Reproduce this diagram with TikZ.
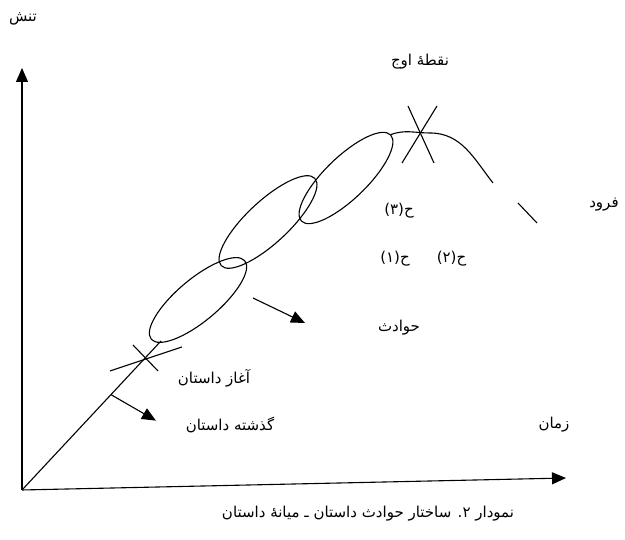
\documentclass[tikz,border=0pt]{standalone}
\usepackage{fontspec}
\newfontfamily\arabicfont[Script=Arabic]{DejaVu Sans}
\TeXXeTstate=1
\usetikzlibrary{arrows.meta,positioning,calc,shapes.geometric}

\begin{document}
\begin{tikzpicture}[x=1pt,y=1pt,line width=1.1pt,>={Triangle[length=14pt,width=12pt]},
  lbl/.style={font=\arabicfont\fontsize{15}{18}\selectfont,inner sep=1pt,execute at begin node=\beginR,execute at end node=\endR},
  ev/.style={draw,ellipse,inner sep=0pt,minimum height=42pt}]
  \useasboundingbox (0,0) rectangle (625,540);
  \coordinate(O) at (22,50);
  \coordinate(ytip) at (22,472);
  \coordinate(xtip) at (566,62);
  \draw[->](O)--(ytip);
  \draw[->](O)--(xtip);
  \node[lbl](tension) at (23,521){تنش};
  \node[lbl](time) at (554,115){زمان};
  % events
  \node[ev,minimum width=122pt,rotate=40](ev1) at (198,240){};
  \node[ev,minimum width=128pt,rotate=43](ev2) at (268,318){};
  \node[ev,minimum width=124pt,rotate=44](ev3) at (346,362){};
  \coordinate(s) at (161,199);
  \draw(O)--(s);
  \coordinate(st) at (145,182);
  \draw($(st)+(-35,-13)$)--($(st)+(37,11)$);
  \draw($(st)+(-12,13)$)--($(st)+(13,-13)$);
  \coordinate(p) at ($(O)!0.64!(s)$);
  \draw[->](p)--++(45,-26);
  \coordinate(q) at (253,242);
  \draw[->](q)--(305,217);
  % climax and fall
  \coordinate(pk) at (420,406);
  \draw(ev3.east) to[out=20,in=180](430,407) to[out=0,in=128](493,357);
  \draw(518,337)--(537,317);
  \draw($(pk)+(-12,28)$)--($(pk)+(14,-29)$);
  \draw($(pk)+(17,28)$)--($(pk)+(-18,-29)$);
  \node[lbl](climax) at (420,478){نقطهٔ اوج};
  \node[lbl](fall) at (604,335){فرود};
  \node[lbl](h1) at (395,281){ح(۱)};
  \node[lbl,right=24pt of h1](h2){ح(۲)};
  \node[lbl](h3) at (399,329){ح(۳)};
  \node[lbl](events) at (399,212){حوادث};
  \node[lbl](begin) at (214,162){آغاز داستان};
  \node[lbl](past) at (230,115){گذشته داستان};
  \node[lbl](caption) at (368,26){نمودار ۲. ساختار حوادث داستان ـ میانهٔ داستان};
\end{tikzpicture}
\end{document}
